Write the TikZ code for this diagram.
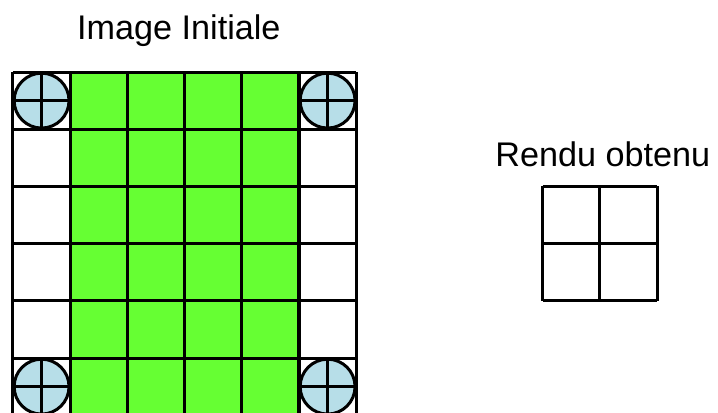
\documentclass[tikz,border=0pt]{standalone}
\usepackage{fontspec}
\setmainfont{Liberation Sans}
\usetikzlibrary{positioning}
\definecolor{pixgreen}{RGB}{102,255,51}
\definecolor{cornerblue}{RGB}{183,222,232}

\begin{document}
\begin{tikzpicture}[font=\fontsize{17}{20}\selectfont,
  gridline/.style={line width=1.5pt},
  corner/.style={draw,line width=1.5pt,fill=cornerblue}]
  \useasboundingbox (-0.227,-5.944) rectangle (12.325,1.259);
  \clip (-0.227,-5.944) rectangle (12.325,1.259);

  % initial image, 6x6
  \fill[pixgreen] (1,-6) rectangle (5,0);
  \draw[gridline] (0,-6) grid (6,0);
  \foreach \cx/\cy in {0.5/-0.5,5.5/-0.5,0.5/-5.5,5.5/-5.5} {
    \draw[corner] (\cx,\cy) circle (0.48);
    \draw[gridline] (\cx-0.48,\cy) -- (\cx+0.48,\cy)
                    (\cx,\cy-0.48) -- (\cx,\cy+0.48);
  }
  \node[anchor=base] (initlabel) at (2.9,0.572) {Image Initiale};

  % rendered result, 2x2
  \begin{scope}[shift={(9.26,-4)}]
    \draw[gridline] (0,0) grid (2,2);
  \end{scope}
  \node[anchor=base] (renderlabel) at (10.31,-1.643) {Rendu obtenu};
\end{tikzpicture}
\end{document}
